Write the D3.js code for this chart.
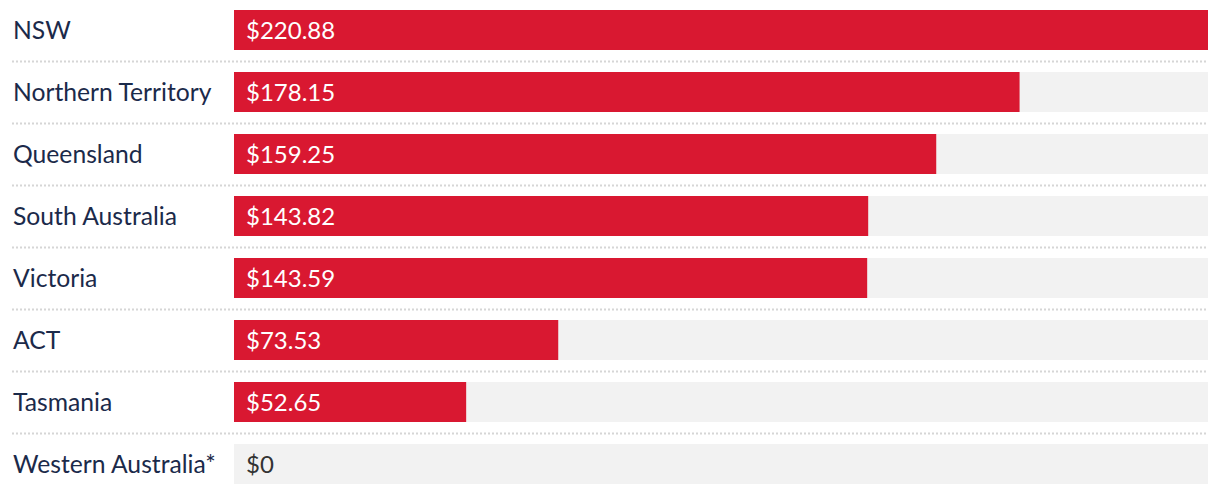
<!DOCTYPE html>
<html>
<head>
<meta charset="utf-8">
<script src="https://cdn.jsdelivr.net/npm/d3@7"></script>
<style>
  body { margin: 0; background: #fff; }
  text { font-family: "Lato", "Open Sans", sans-serif; }
</style>
</head>
<body>
<svg id="chart"></svg>
<script>
// State names and the dollar values shown on the bars
const states = ["NSW", "Northern Territory", "Queensland", "South Australia",
                "Victoria", "ACT", "Tasmania", "Western Australia*"];
const values = [220.88, 178.15, 159.25, 143.82, 143.59, 73.53, 52.65, 0];
const valueLabels = ["$220.88", "$178.15", "$159.25", "$143.82",
                     "$143.59", "$73.53", "$52.65", "$0"];

const width = 1220, height = 494;
const barLeft = 234, barRight = 1208;

const svg = d3.select("#chart")
  .attr("width", width)
  .attr("height", height);

const rows = states.map((s, i) => ({ state: s, value: values[i], label: valueLabels[i] }));

// scales
const xScale = d3.scaleLinear()
  .domain([0, d3.max(values)])
  .range([barLeft, barRight]);

const yScale = d3.scaleBand()
  .domain(states)
  .range([-1, 495])
  .paddingInner(22 / 62)
  .paddingOuter(11 / 62);

const bw = yScale.bandwidth();

// dotted separators between rows
svg.selectAll(".sep")
  .data(states.slice(0, -1))
  .join("line")
  .attr("class", "sep")
  .attr("x1", 12)
  .attr("x2", barRight)
  .attr("y1", d => yScale(d) + bw + 11.5)
  .attr("y2", d => yScale(d) + bw + 11.5)
  .attr("stroke", "#d6d6d6")
  .attr("stroke-width", 2)
  .attr("stroke-dasharray", "2,2");

// grey track behind each bar
svg.selectAll(".track")
  .data(rows)
  .join("rect")
  .attr("class", "track")
  .attr("x", barLeft)
  .attr("y", d => yScale(d.state))
  .attr("width", barRight - barLeft)
  .attr("height", bw)
  .attr("fill", "#f2f2f2");

// red bars
svg.selectAll(".bar")
  .data(rows)
  .join("rect")
  .attr("class", "bar")
  .attr("x", barLeft)
  .attr("y", d => yScale(d.state))
  .attr("width", d => xScale(d.value) - barLeft)
  .attr("height", bw)
  .attr("fill", "#d91831");

// state names
svg.selectAll(".state")
  .data(rows)
  .join("text")
  .attr("class", "state")
  .attr("x", 13)
  .attr("y", d => yScale(d.state) + bw / 2 + 8.5)
  .attr("font-size", 24.7)
  .attr("fill", "#1b2a4a")
  .text(d => d.state);

// value labels inside bars
svg.selectAll(".val")
  .data(rows)
  .join("text")
  .attr("class", "val")
  .attr("x", barLeft + 12)
  .attr("y", d => yScale(d.state) + bw / 2 + 8.5)
  .attr("font-size", 24)
  .attr("fill", d => d.value > 0 ? "#fff" : "#333")
  .text(d => d.label);
</script>
</body>
</html>
